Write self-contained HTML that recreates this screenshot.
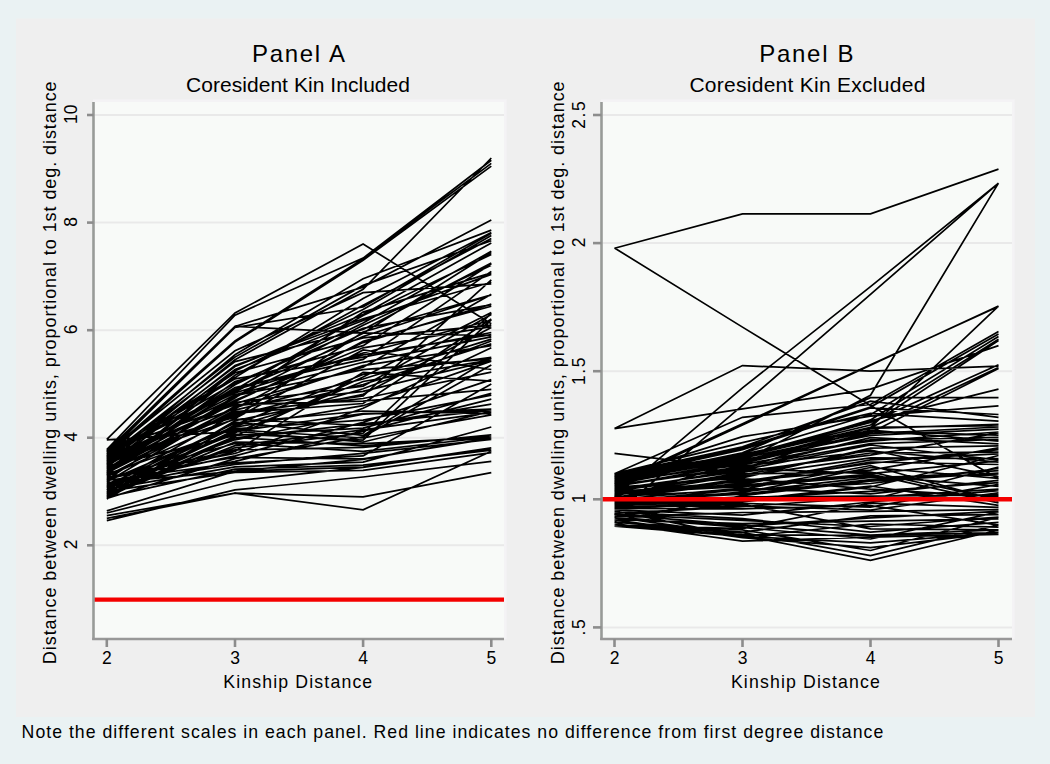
<!DOCTYPE html>
<html><head><meta charset="utf-8"><style>
html,body{margin:0;padding:0;width:1050px;height:764px;overflow:hidden;background:#eaf2f3;}
svg{display:block;font-family:"Liberation Sans", sans-serif;}
</style></head><body>
<svg width="1050" height="764" viewBox="0 0 1050 764" fill="#000">
<rect x="0" y="0" width="1050" height="764" fill="#eaf2f3"/>
<rect x="16" y="18.5" width="1019" height="698.5" fill="#efefef"/>
<rect x="93" y="99.3" width="413.7" height="539.7" fill="#f4f3f5"/>
<rect x="93" y="102" width="411" height="537" fill="#f8faf8"/>
<line x1="93" x2="504" y1="115.0" y2="115.0" stroke="#e9e9e9" stroke-width="2"/>
<line x1="93" x2="504" y1="222.6" y2="222.6" stroke="#e9e9e9" stroke-width="2"/>
<line x1="93" x2="504" y1="330.2" y2="330.2" stroke="#e9e9e9" stroke-width="2"/>
<line x1="93" x2="504" y1="437.7" y2="437.7" stroke="#e9e9e9" stroke-width="2"/>
<line x1="93" x2="504" y1="545.3" y2="545.3" stroke="#e9e9e9" stroke-width="2"/>
<path d="M106.8,439.4 235.0,312.9 363.1,244.1 491.3,323.7 M106.8,449.6 235.0,315.1 363.1,258.1 491.3,160.2 M106.8,439.9 235.0,431.3 363.1,413.5 491.3,410.8 M106.8,453.9 235.0,340.9 363.1,258.6 491.3,163.4 M106.8,456.0 235.0,342.0 363.1,260.2 491.3,166.1 M106.8,463.6 235.0,359.7 363.1,289.3 491.3,158.0 M106.8,451.7 235.0,326.4 363.1,287.1 491.3,219.9 M106.8,451.2 235.0,326.4 363.1,332.8 491.3,335.5 M106.8,453.9 235.0,327.5 363.1,307.0 491.3,233.3 M106.8,518.4 235.0,493.1 363.1,509.8 491.3,451.2 M106.8,515.7 235.0,493.1 363.1,496.9 491.3,472.7 M106.8,520.6 235.0,489.9 363.1,477.0 491.3,461.4 M106.8,513.0 235.0,480.8 363.1,467.3 491.3,448.5 M106.8,510.9 235.0,471.1 363.1,459.3 491.3,437.7 M106.8,471.3 235.0,413.1 363.1,403.5 491.3,319.0 M106.8,466.4 235.0,387.6 363.1,359.4 491.3,271.4 M106.8,463.1 235.0,419.1 363.1,425.5 491.3,404.2 M106.8,454.8 235.0,389.7 363.1,315.5 491.3,254.6 M106.8,467.0 235.0,369.6 363.1,320.5 491.3,274.4 M106.8,457.2 235.0,357.1 363.1,285.4 491.3,240.8 M106.8,495.2 235.0,437.9 363.1,423.9 491.3,410.2 M106.8,477.8 235.0,457.5 363.1,458.8 491.3,438.3 M106.8,453.8 235.0,350.8 363.1,292.7 491.3,283.9 M106.8,470.7 235.0,398.1 363.1,312.1 491.3,272.9 M106.8,458.7 235.0,361.6 363.1,329.4 491.3,263.1 M106.8,492.6 235.0,429.8 363.1,438.0 491.3,414.8 M106.8,477.1 235.0,453.5 363.1,408.3 491.3,347.7 M106.8,484.5 235.0,464.5 363.1,453.3 491.3,439.4 M106.8,474.3 235.0,428.8 363.1,420.1 491.3,395.2 M106.8,473.7 235.0,375.3 363.1,305.3 491.3,238.6 M106.8,497.1 235.0,469.1 363.1,465.1 491.3,450.2 M106.8,485.3 235.0,439.8 363.1,414.2 491.3,409.1 M106.8,484.0 235.0,434.0 363.1,440.1 491.3,319.9 M106.8,457.8 235.0,372.8 363.1,337.9 491.3,325.1 M106.8,464.4 235.0,389.6 363.1,354.9 491.3,334.7 M106.8,489.7 235.0,432.8 363.1,381.5 491.3,359.8 M106.8,462.6 235.0,415.2 363.1,384.5 491.3,343.8 M106.8,491.3 235.0,472.4 363.1,470.3 491.3,452.7 M106.8,472.0 235.0,402.5 363.1,386.3 491.3,314.4 M106.8,491.8 235.0,436.2 363.1,377.0 491.3,312.5 M106.8,499.1 235.0,424.7 363.1,374.5 491.3,357.3 M106.8,460.5 235.0,394.8 363.1,362.3 491.3,336.8 M106.8,486.4 235.0,451.4 363.1,372.4 491.3,381.2 M106.8,485.9 235.0,423.0 363.1,411.0 491.3,413.6 M106.8,450.6 235.0,404.7 363.1,401.1 491.3,389.4 M106.8,460.0 235.0,403.6 363.1,367.2 491.3,294.3 M106.8,483.3 235.0,455.8 363.1,422.4 491.3,379.6 M106.8,452.6 235.0,377.6 363.1,298.5 491.3,232.6 M106.8,475.0 235.0,371.0 363.1,309.4 491.3,235.6 M106.8,469.8 235.0,390.8 363.1,336.5 491.3,295.0 M106.8,487.1 235.0,413.9 363.1,395.9 491.3,279.8 M106.8,456.1 235.0,378.8 363.1,357.1 491.3,332.5 M106.8,468.4 235.0,400.2 363.1,347.8 491.3,326.7 M106.8,452.0 235.0,393.0 363.1,353.0 491.3,320.3 M106.8,459.4 235.0,397.4 363.1,333.2 491.3,252.5 M106.8,482.6 235.0,471.3 363.1,467.1 491.3,447.8 M106.8,479.2 235.0,449.9 363.1,447.4 491.3,434.9 M106.8,489.3 235.0,466.8 363.1,462.1 491.3,427.0 M106.8,490.3 235.0,422.1 363.1,435.4 491.3,358.1 M106.8,493.0 235.0,431.5 363.1,442.0 491.3,411.4 M106.8,482.0 235.0,406.0 363.1,391.4 491.3,360.4 M106.8,472.6 235.0,381.5 363.1,345.6 491.3,264.0 M106.8,498.4 235.0,458.6 363.1,436.9 491.3,365.0 M106.8,469.3 235.0,384.7 363.1,323.1 491.3,251.3 M106.8,479.7 235.0,395.7 363.1,369.7 491.3,358.8 M106.8,481.2 235.0,426.1 363.1,388.7 491.3,341.0 M106.8,462.1 235.0,366.5 363.1,314.6 491.3,242.9 M106.8,476.5 235.0,418.4 363.1,350.0 491.3,369.5 M106.8,480.5 235.0,462.9 363.1,455.9 491.3,384.0 M106.8,475.9 235.0,410.1 363.1,379.0 491.3,339.1 M106.8,467.9 235.0,411.8 363.1,398.5 491.3,372.2 M106.8,493.7 235.0,447.8 363.1,433.3 491.3,313.4 M106.8,451.4 235.0,391.9 363.1,325.2 491.3,265.3 M106.8,495.7 235.0,445.7 363.1,429.8 491.3,412.3 M106.8,466.1 235.0,435.3 363.1,428.1 491.3,393.3 M106.8,461.2 235.0,354.8 363.1,278.7 491.3,230.1 M106.8,496.4 235.0,420.7 363.1,394.3 491.3,327.5 M106.8,463.9 235.0,401.4 363.1,342.6 491.3,304.1 M106.8,478.4 235.0,443.5 363.1,451.4 491.3,437.0 M106.8,473.1 235.0,407.9 363.1,365.6 491.3,345.7 M106.8,497.6 235.0,437.3 363.1,445.9 491.3,435.7 M106.8,494.4 235.0,442.1 363.1,443.6 491.3,437.4 M106.8,488.3 235.0,427.2 363.1,405.7 491.3,361.1 M106.8,453.4 235.0,417.1 363.1,332.0 491.3,294.7 M106.8,487.6 235.0,461.3 363.1,431.1 491.3,399.1 M106.8,465.4 235.0,365.5 363.1,318.7 491.3,282.2 M106.8,456.8 235.0,382.9 363.1,328.4 491.3,304.6 M106.8,455.5 235.0,408.6 363.1,341.3 491.3,306.3" fill="none" stroke="#000" stroke-width="1.7" stroke-linejoin="miter"/>
<line x1="93" x2="504" y1="599.6" y2="599.6" stroke="#f40000" stroke-width="4.4"/>
<line x1="93.5" x2="93.5" y1="102" y2="640" stroke="#989b98" stroke-width="2.6"/>
<line x1="92.2" x2="504" y1="639" y2="639" stroke="#989898" stroke-width="2.6"/>
<line x1="87.0" x2="93.5" y1="115.0" y2="115.0" stroke="#8c8c8c" stroke-width="2.6"/>
<text transform="translate(76.6,114.2) rotate(-90)" font-size="17.5" text-anchor="middle">10</text>
<line x1="87.0" x2="93.5" y1="222.6" y2="222.6" stroke="#8c8c8c" stroke-width="2.6"/>
<text transform="translate(76.6,221.8) rotate(-90)" font-size="17.5" text-anchor="middle">8</text>
<line x1="87.0" x2="93.5" y1="330.2" y2="330.2" stroke="#8c8c8c" stroke-width="2.6"/>
<text transform="translate(76.6,329.4) rotate(-90)" font-size="17.5" text-anchor="middle">6</text>
<line x1="87.0" x2="93.5" y1="437.7" y2="437.7" stroke="#8c8c8c" stroke-width="2.6"/>
<text transform="translate(76.6,436.9) rotate(-90)" font-size="17.5" text-anchor="middle">4</text>
<line x1="87.0" x2="93.5" y1="545.3" y2="545.3" stroke="#8c8c8c" stroke-width="2.6"/>
<text transform="translate(76.6,544.5) rotate(-90)" font-size="17.5" text-anchor="middle">2</text>
<line x1="106.8" x2="106.8" y1="639" y2="647" stroke="#8c8c8c" stroke-width="2.6"/>
<text x="106.8" y="663.5" font-size="17.5" text-anchor="middle">2</text>
<line x1="235.0" x2="235.0" y1="639" y2="647" stroke="#8c8c8c" stroke-width="2.6"/>
<text x="235.0" y="663.5" font-size="17.5" text-anchor="middle">3</text>
<line x1="363.1" x2="363.1" y1="639" y2="647" stroke="#8c8c8c" stroke-width="2.6"/>
<text x="363.1" y="663.5" font-size="17.5" text-anchor="middle">4</text>
<line x1="491.3" x2="491.3" y1="639" y2="647" stroke="#8c8c8c" stroke-width="2.6"/>
<text x="491.3" y="663.5" font-size="17.5" text-anchor="middle">5</text>
<text x="299.3" y="62.4" font-size="24" text-anchor="middle" letter-spacing="1.7">Panel A</text>
<text x="298.0" y="92.1" font-size="21" text-anchor="middle" letter-spacing="0.05">Coresident Kin Included</text>
<text x="298.3" y="688.1" font-size="17.7" text-anchor="middle" letter-spacing="1.15">Kinship Distance</text>
<text transform="translate(56.2,372.3) rotate(-90)" font-size="18" text-anchor="middle" letter-spacing="0.93">Distance between dwelling units, proportional to 1st deg. distance</text>
<rect x="601" y="99.3" width="413.7" height="539.7" fill="#f4f3f5"/>
<rect x="601" y="102" width="411" height="537" fill="#f8faf8"/>
<line x1="601" x2="1012" y1="115.0" y2="115.0" stroke="#e9e9e9" stroke-width="2"/>
<line x1="601" x2="1012" y1="243.1" y2="243.1" stroke="#e9e9e9" stroke-width="2"/>
<line x1="601" x2="1012" y1="371.2" y2="371.2" stroke="#e9e9e9" stroke-width="2"/>
<line x1="601" x2="1012" y1="499.3" y2="499.3" stroke="#e9e9e9" stroke-width="2"/>
<line x1="601" x2="1012" y1="627.4" y2="627.4" stroke="#e9e9e9" stroke-width="2"/>
<path d="M614.5,248.2 742.5,213.9 870.5,213.9 998.5,169.1 M614.5,248.0 742.5,327.1 870.5,405.5 998.5,478.8 M614.5,428.6 742.5,365.6 870.5,371.2 998.5,366.1 M614.5,428.6 742.5,408.9 870.5,389.1 998.5,345.6 M614.5,496.7 742.5,387.9 870.5,286.7 998.5,183.1 M614.5,514.7 742.5,405.3 870.5,294.3 998.5,183.1 M614.5,499.3 742.5,460.9 870.5,395.3 998.5,183.1 M614.5,483.9 742.5,425.0 870.5,365.3 998.5,306.1 M614.5,482.6 742.5,423.7 870.5,364.8 998.5,306.6 M614.5,491.6 742.5,468.6 870.5,427.6 998.5,306.1 M614.5,453.4 742.5,468.6 870.5,473.7 998.5,460.9 M614.5,473.7 742.5,417.3 870.5,404.5 998.5,331.5 M614.5,476.2 742.5,448.1 870.5,407.1 998.5,334.1 M614.5,478.8 742.5,453.2 870.5,414.8 998.5,336.6 M614.5,481.4 742.5,458.3 870.5,419.9 998.5,339.2 M614.5,483.9 742.5,455.7 870.5,425.0 998.5,340.5 M614.5,476.2 742.5,455.7 870.5,422.4 998.5,364.8 M614.5,478.8 742.5,460.9 870.5,427.6 998.5,367.4 M614.5,486.5 742.5,463.4 870.5,432.7 998.5,368.6 M614.5,517.2 742.5,535.2 870.5,560.3 998.5,530.0 M614.5,519.8 742.5,537.7 870.5,547.7 998.5,532.6 M614.5,524.9 742.5,532.6 870.5,555.7 998.5,524.9 M614.5,522.4 742.5,530.0 870.5,550.5 998.5,517.2 M614.5,526.2 742.5,536.4 870.5,542.9 998.5,532.6 M614.5,517.2 742.5,527.5 870.5,539.0 998.5,512.1 M614.5,514.7 742.5,524.9 870.5,535.2 998.5,530.0 M614.5,494.5 742.5,472.4 870.5,453.0 998.5,452.2 M614.5,502.2 742.5,489.4 870.5,465.5 998.5,500.9 M614.5,509.0 742.5,503.4 870.5,507.1 998.5,484.4 M614.5,479.2 742.5,452.9 870.5,397.6 998.5,397.6 M614.5,526.1 742.5,534.7 870.5,535.4 998.5,532.6 M614.5,492.3 742.5,481.3 870.5,463.5 998.5,449.7 M614.5,476.2 742.5,458.2 870.5,431.4 998.5,435.2 M614.5,518.7 742.5,526.2 870.5,517.8 998.5,511.4 M614.5,490.0 742.5,469.9 870.5,445.0 998.5,460.1 M614.5,486.5 742.5,466.3 870.5,451.0 998.5,462.1 M614.5,521.0 742.5,495.7 870.5,481.2 998.5,473.1 M614.5,500.5 742.5,492.6 870.5,467.5 998.5,478.4 M614.5,484.1 742.5,460.8 870.5,435.5 998.5,429.2 M614.5,495.4 742.5,475.2 870.5,450.0 998.5,476.8 M614.5,483.5 742.5,462.0 870.5,430.1 998.5,441.1 M614.5,508.5 742.5,508.8 870.5,505.6 998.5,525.1 M614.5,505.0 742.5,499.0 870.5,499.7 998.5,467.0 M614.5,511.9 742.5,518.7 870.5,532.1 998.5,522.4 M614.5,491.2 742.5,485.1 870.5,474.1 998.5,502.8 M614.5,473.6 742.5,442.6 870.5,413.3 998.5,421.2 M614.5,488.3 742.5,476.2 870.5,457.9 998.5,458.5 M614.5,480.8 742.5,464.9 870.5,439.8 998.5,437.3 M614.5,499.6 742.5,488.0 870.5,493.9 998.5,480.4 M614.5,481.6 742.5,459.3 870.5,441.2 998.5,432.0 M614.5,513.4 742.5,506.7 870.5,497.3 998.5,489.1 M614.5,502.6 742.5,498.0 870.5,491.3 998.5,482.6 M614.5,484.8 742.5,468.6 870.5,437.6 998.5,443.9 M614.5,482.6 742.5,463.3 870.5,433.6 998.5,427.0 M614.5,497.3 742.5,478.6 870.5,489.1 998.5,496.7 M614.5,514.3 742.5,520.4 870.5,526.5 998.5,517.0 M614.5,504.4 742.5,491.9 870.5,477.3 998.5,474.3 M614.5,506.0 742.5,500.3 870.5,486.0 998.5,505.4 M614.5,503.8 742.5,496.9 870.5,496.1 998.5,494.9 M614.5,480.3 742.5,456.8 870.5,427.3 998.5,425.6 M614.5,507.8 742.5,501.9 870.5,487.0 998.5,455.5 M614.5,477.7 742.5,449.6 870.5,407.9 998.5,414.5 M614.5,478.3 742.5,456.0 870.5,420.9 998.5,389.1 M614.5,519.6 742.5,523.5 870.5,521.2 998.5,518.9 M614.5,501.0 742.5,494.1 870.5,479.6 998.5,470.7 M614.5,493.8 742.5,484.1 870.5,462.0 998.5,464.5 M614.5,522.1 742.5,532.1 870.5,515.8 998.5,514.6 M614.5,496.3 742.5,490.1 870.5,483.5 998.5,468.5 M614.5,475.3 742.5,454.3 870.5,428.4 998.5,424.4 M614.5,510.9 742.5,536.7 870.5,524.0 998.5,527.2 M614.5,487.3 742.5,477.8 870.5,448.1 998.5,445.8 M614.5,509.8 742.5,515.1 870.5,502.0 998.5,490.7 M614.5,489.0 742.5,471.2 870.5,455.2 998.5,432.9 M614.5,476.9 742.5,436.7 870.5,416.1 998.5,405.8 M614.5,506.8 742.5,505.9 870.5,510.0 998.5,492.8 M614.5,525.1 742.5,528.6 870.5,503.2 998.5,507.4 M614.5,516.9 742.5,512.5 870.5,511.4 998.5,509.7 M614.5,490.8 742.5,473.9 870.5,472.0 998.5,499.6 M614.5,523.5 742.5,541.1 870.5,537.1 998.5,534.5 M614.5,515.6 742.5,504.4 870.5,528.8 998.5,529.9 M614.5,492.8 742.5,486.7 870.5,475.9 998.5,486.4 M614.5,474.5 742.5,446.8 870.5,401.2 998.5,417.4 M614.5,498.1 742.5,482.8 870.5,459.9 998.5,453.8 M614.5,498.6 742.5,480.4 870.5,470.1 998.5,447.8 M614.5,485.8 742.5,467.3 870.5,443.6 998.5,439.5" fill="none" stroke="#000" stroke-width="1.7" stroke-linejoin="miter"/>
<line x1="601" x2="1012" y1="499.3" y2="499.3" stroke="#f40000" stroke-width="4.4"/>
<line x1="601.5" x2="601.5" y1="102" y2="640" stroke="#989b98" stroke-width="2.6"/>
<line x1="600.2" x2="1012" y1="639" y2="639" stroke="#989898" stroke-width="2.6"/>
<line x1="593.0" x2="601.5" y1="115.0" y2="115.0" stroke="#8c8c8c" stroke-width="2.6"/>
<text transform="translate(584.9,114.2) rotate(-90)" font-size="17.5" text-anchor="middle" letter-spacing="1.6">2.5</text>
<line x1="593.0" x2="601.5" y1="243.1" y2="243.1" stroke="#8c8c8c" stroke-width="2.6"/>
<text transform="translate(584.9,242.3) rotate(-90)" font-size="17.5" text-anchor="middle">2</text>
<line x1="593.0" x2="601.5" y1="371.2" y2="371.2" stroke="#8c8c8c" stroke-width="2.6"/>
<text transform="translate(584.9,370.4) rotate(-90)" font-size="17.5" text-anchor="middle" letter-spacing="1.6">1.5</text>
<line x1="593.0" x2="601.5" y1="499.3" y2="499.3" stroke="#8c8c8c" stroke-width="2.6"/>
<text transform="translate(584.9,498.5) rotate(-90)" font-size="17.5" text-anchor="middle">1</text>
<line x1="593.0" x2="601.5" y1="627.4" y2="627.4" stroke="#8c8c8c" stroke-width="2.6"/>
<text transform="translate(584.9,626.6) rotate(-90)" font-size="17.5" text-anchor="middle" letter-spacing="1.6">.5</text>
<line x1="614.5" x2="614.5" y1="639" y2="647" stroke="#8c8c8c" stroke-width="2.6"/>
<text x="614.5" y="663.5" font-size="17.5" text-anchor="middle">2</text>
<line x1="742.5" x2="742.5" y1="639" y2="647" stroke="#8c8c8c" stroke-width="2.6"/>
<text x="742.5" y="663.5" font-size="17.5" text-anchor="middle">3</text>
<line x1="870.5" x2="870.5" y1="639" y2="647" stroke="#8c8c8c" stroke-width="2.6"/>
<text x="870.5" y="663.5" font-size="17.5" text-anchor="middle">4</text>
<line x1="998.5" x2="998.5" y1="639" y2="647" stroke="#8c8c8c" stroke-width="2.6"/>
<text x="998.5" y="663.5" font-size="17.5" text-anchor="middle">5</text>
<text x="807.3" y="62.4" font-size="24" text-anchor="middle" letter-spacing="1.7">Panel B</text>
<text x="807.5" y="92.1" font-size="21" text-anchor="middle" letter-spacing="0.27">Coresident Kin Excluded</text>
<text x="806.0" y="688.1" font-size="17.7" text-anchor="middle" letter-spacing="1.15">Kinship Distance</text>
<text transform="translate(563.6,372.3) rotate(-90)" font-size="18" text-anchor="middle" letter-spacing="0.93">Distance between dwelling units, proportional to 1st deg. distance</text>
<text x="21.6" y="737.5" font-size="17.7" text-anchor="start" letter-spacing="1.013">Note the different scales in each panel. Red line indicates no difference from first degree distance</text>
</svg>
</body></html>
